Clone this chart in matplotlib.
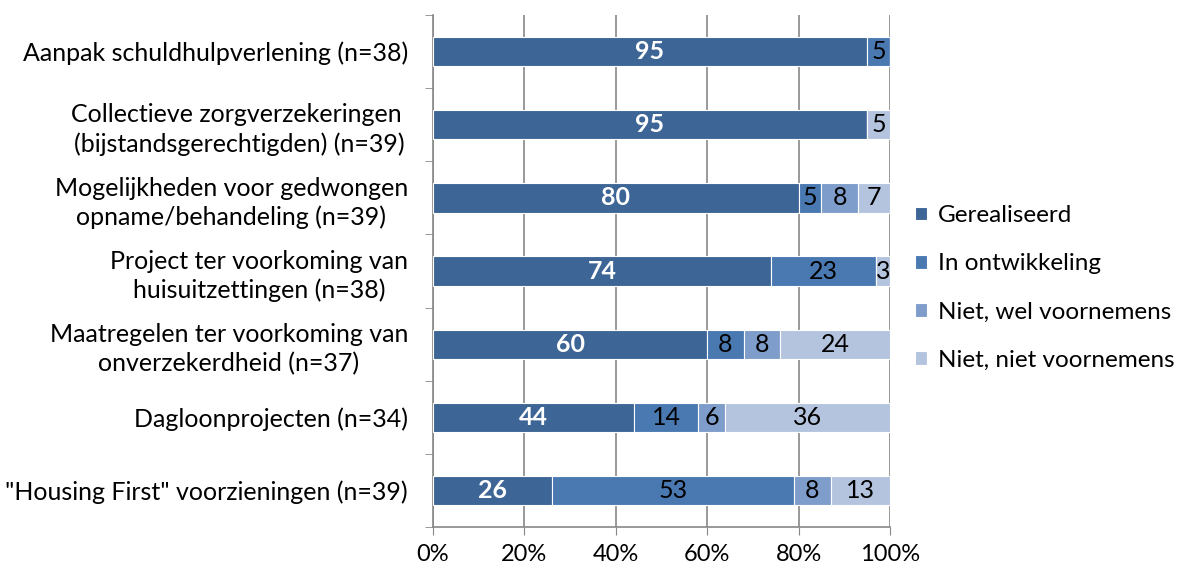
import matplotlib.pyplot as plt
import numpy as np

plt.rcParams["font.family"] = ["Lato", "DejaVu Sans"]

categories = [
    "Aanpak schuldhulpverlening (n=38)",
    "Collectieve zorgverzekeringen \n(bijstandsgerechtigden) (n=39)",
    "Mogelijkheden voor gedwongen\nopname/behandeling (n=39)",
    "Project ter voorkoming van\nhuisuitzettingen (n=38)",
    "Maatregelen ter voorkoming van\nonverzekerdheid (n=37)",
    "Dagloonprojecten (n=34)",
    "\"Housing First\" voorzieningen (n=39)",
]
series_names = ["Gerealiseerd", "In ontwikkeling", "Niet, wel voornemens", "Niet, niet voornemens"]
gerealiseerd = [95, 95, 80, 74, 60, 44, 26]
in_ontwikkeling = [5, 0, 5, 23, 8, 14, 53]
niet_wel = [0, 0, 8, 0, 8, 6, 8]
niet_niet = [0, 5, 7, 3, 24, 36, 13]
colors = ["#3d6596", "#4a79b2", "#7e9dcb", "#b4c4df"]

series = [gerealiseerd, in_ontwikkeling, niet_wel, niet_niet]

fig = plt.figure(figsize=(11.81, 5.71), dpi=100)
ax = fig.add_axes([0.3666, 0.077, 0.387, 0.8967])

y = np.arange(len(categories))
left = np.zeros(len(categories))
for i, (name, vals) in enumerate(zip(series_names, series)):
    vals = np.array(vals, dtype=float)
    ax.barh(y, vals, left=left, height=0.4, color=colors[i], edgecolor="white",
            linewidth=0.8, label=name, zorder=3)
    for j, v in enumerate(vals):
        if v > 0:
            if i == 0:
                ax.text(left[j] + v / 2, y[j], f"{v:.0f}", ha="center", va="center",
                        color="white", fontsize=18, fontweight="bold", zorder=4)
            else:
                ax.text(left[j] + v / 2, y[j], f"{v:.0f}", ha="center", va="center",
                        color="black", fontsize=18, zorder=4)
    left += vals

ax.set_xlim(0, 100)
ax.set_ylim(len(categories) - 0.5, -0.5)
ax.set_xticks(np.arange(0, 101, 20))
ax.set_xticklabels([f"{t}%" for t in range(0, 101, 20)], fontsize=17)
ax.set_yticks(y)
ax.set_yticklabels(categories, fontsize=18, ha="right", multialignment="center",
                   linespacing=1.3)
ax.set_yticks(np.arange(-0.5, len(categories), 1), minor=True)
ax.tick_params(axis="y", which="major", length=0, pad=18)
ax.tick_params(axis="y", which="minor", length=6, color="#888888")
ax.tick_params(axis="x", length=6, color="#888888", pad=6)
ax.grid(axis="x", color="#888888", linewidth=1.2, zorder=0)
ax.spines["top"].set_visible(False)
ax.spines["right"].set_visible(False)
for s in ["left", "bottom"]:
    ax.spines[s].set_color("#888888")
    ax.spines[s].set_linewidth(1.2)

ax.legend(loc="center left", bbox_to_anchor=(1.055, 0.467), frameon=False, fontsize=17.5,
          handlelength=0.5, handleheight=0.5, labelspacing=1.12, handletextpad=0.45,
          borderaxespad=0, borderpad=0)

plt.savefig("out.png", dpi=100)
